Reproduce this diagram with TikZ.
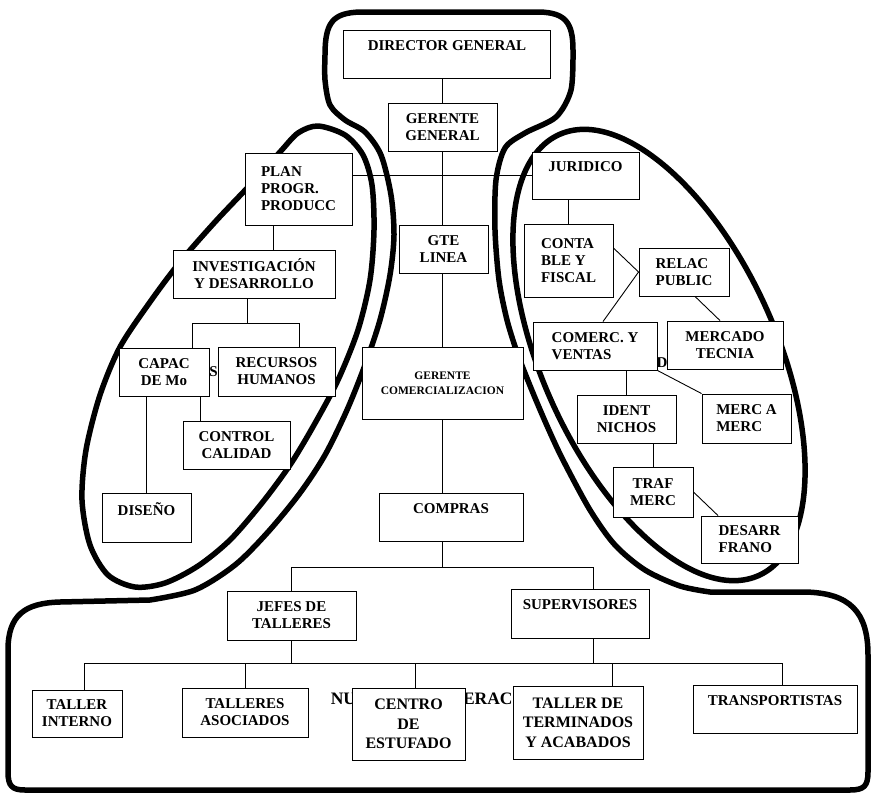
\documentclass[tikz,border=0pt]{standalone}
\usepackage{fontspec}
\setmainfont{Liberation Serif}
\tikzset{
unit/.style={draw, fill=white, line width=0.9pt, inner sep=1pt, align=center, font=\bfseries\fontsize{15}{17}\selectfont}, % every box of the chart
wideunit/.style={unit, font=\bfseries\fontsize{16}{19.5}\selectfont}, % the two wider boxes of the bottom row
smallunit/.style={unit, font=\bfseries\fontsize{11.5}{14.5}\selectfont}, % box with the long word
rim/.style={line width=5.5pt, line join=round}, % thick outlines round the groups
hidden/.style={font=\bfseries\fontsize{15}{17}\selectfont}, % letters partly covered by the boxes
}

\begin{document}
\begin{tikzpicture}[x=1pt, y=-1pt, line width=0.9pt]
\path[use as bounding box, fill=white] (0,0) rectangle (873,795);

% outlines
\draw[rim] (8,772) -- (8,650) .. controls (8,615) and (25,603) .. (60,602) -- (150,600)
 -- plot[smooth] coordinates {(150,600) (195,590) (235,565) (268,532) (300,493) (325,455) (347,410) (365,365) (380,320) (390,275) (394,235) (391,195) (381,155) (365,132) (345,120) (330,105) (325,80) (325,55)}
 .. controls (325,22) and (333,13) .. (360,12) -- (540,12) .. controls (565,13) and (573,22) .. (573,50)
 -- plot[smooth] coordinates {(573,50) (571,90) (556,117) (525,133) (505,148) (496,180) (495,230) (499,280) (507,320) (518,355) (533,393) (548,428) (563,460) (590,510) (615,545) (645,570) (680,586) (710,592)}
 -- (805,592) .. controls (850,593) and (868,612) .. (868,655) -- (868,772) .. controls (868,786) and (864,790) .. (850,790) -- (25,790) .. controls (12,790) and (8,786) .. (8,772) -- cycle;
\draw[rim] plot[smooth cycle] coordinates {(318,126) (345,135) (363,155) (372,185) (374,230) (370,280) (358,330) (338,380) (314,425) (290,465) (262,503) (230,540) (198,566) (165,583) (135,587) (108,575) (90,545) (82,500) (86,450) (100,395) (120,347) (150,302) (180,262) (215,222) (250,185) (280,152) (298,133)};
\draw[rim, rotate around={-65.6:(659,355)}] (659,355) ellipse [x radius=242, y radius=117];

\node[anchor=base west, font=\bfseries\fontsize{17.5}{20}\selectfont] (nucleo) at (327,704) {NUCLEO DE OPERACIONES};
\node[hidden] (s) at (213.5,372) {S};
\node[hidden] (d) at (662,363) {D};

\node[unit, minimum width=207, minimum height=48] (dir) at (447,54) {DIRECTOR GENERAL\\\mbox{}};
\node[unit, minimum width=109, minimum height=48] (gg) at (442.5,127) {GERENTE\\GENERAL};
\node[unit, align=left, minimum width=107, minimum height=72] (plan) at (298.5,189) {PLAN\\PROGR.\\PRODUCC};
\node[unit, minimum width=89, minimum height=48] (gtel) at (443.5,249) {GTE\\LINEA};
\node[unit, minimum width=107, minimum height=47] (jur) at (585.5,175.5) {JURIDICO\\\mbox{}};
\node[unit, align=left, minimum width=89, minimum height=73] (cont) at (568.5,260.5) {CONTA\\BLE Y\\FISCAL};
\node[unit, align=left, minimum width=90, minimum height=48] (relac) at (684,272) {RELAC\\PUBLIC};
\node[unit, align=left, minimum width=124, minimum height=48] (comerc) at (595,346) {COMERC. Y\\VENTAS};
\node[unit, minimum width=116, minimum height=48] (merc) at (725,345) {MERCADO\\TECNIA};
\node[unit, minimum width=99, minimum height=48] (ident) at (626.5,419) {IDENT\\NICHOS};
\node[unit, align=left, minimum width=89, minimum height=49] (mercm) at (746.5,418.5) {MERC A\\MERC};
\node[unit, minimum width=80, minimum height=50] (traf) at (653,492) {TRAF\\MERC};
\node[unit, align=left, minimum width=97, minimum height=47] (desarr) at (749.5,539.5) {DESARR\\FRANO};
\node[unit, minimum width=162, minimum height=48] (invest) at (254,274) {INVESTIGACIÓN\\Y DESARROLLO};
\node[unit, minimum width=90, minimum height=48] (capac) at (164,372) {CAPAC\\DE Mo};
\node[unit, minimum width=117, minimum height=49] (recur) at (276.5,371.5) {RECURSOS\\HUMANOS};
\node[unit, minimum width=107, minimum height=48] (control) at (236.5,445) {CONTROL\\CALIDAD};
\node[unit, minimum width=89, minimum height=49] (diseno) at (146.5,517.5) {DISEÑO\\\mbox{}};
\node[smallunit, minimum width=161, minimum height=72] (gcom) at (442.5,383) {GERENTE\\COMERCIALIZACION};
\node[unit, minimum width=144, minimum height=48] (compras) at (451,517) {COMPRAS\\\mbox{}};
\node[unit, minimum width=129, minimum height=49] (jefes) at (291.5,615.5) {JEFES DE\\TALLERES};
\node[unit, minimum width=138, minimum height=49] (superv) at (580,613.5) {SUPERVISORES\\\mbox{}};
\node[unit, minimum width=90, minimum height=47] (tint) at (77,713.5) {TALLER\\INTERNO};
\node[unit, minimum width=126, minimum height=49] (tasoc) at (245,712.5) {TALLERES\\ASOCIADOS};
\node[wideunit, minimum width=113, minimum height=72] (centro) at (408.5,724) {CENTRO\\DE\\ESTUFADO};
\node[wideunit, minimum width=130, minimum height=73] (tterm) at (578,722.5) {TALLER DE\\TERMINADOS\\Y ACABADOS};
\node[unit, minimum width=164, minimum height=48] (transp) at (775,709) {TRANSPORTISTAS\\\mbox{}};

% centre column and left group
\coordinate (hub) at (443,175);
\draw (gg.north |- dir.south) -- (gg.north);
\draw (gg.south) -- (gg.south |- gtel.north);
\draw (hub -| plan.east) -- (hub -| jur.west);
\coordinate (p1) at ([xshift=-25.5]plan.south);
\draw (p1) -- (p1 |- invest.north);
\coordinate (i1) at ([xshift=-7]invest.south);
\coordinate (ca) at ([xshift=28]capac.north);
\coordinate (ra) at ([xshift=22.5]recur.north);
\draw (i1) -- ++(0,25) coordinate (i2);
\draw (ca) |- (i2) -| (ra);
\draw (diseno.north |- capac.south) -- (diseno.north);
\coordinate (cb) at ([xshift=36]capac.south);
\draw (cb) -- (cb |- control.north);
\draw (gcom.north |- gtel.south) -- (gcom.north);
\draw (gcom.south) -- (gcom.south |- compras.north);
\draw (gcom.south |- compras.south) -- ++(0,26) coordinate (b0);
\coordinate (sa) at ([xshift=13]superv.north);
\draw (jefes.north) |- (b0) -| (sa);

% bottom row
\coordinate (row) at (443,663);
\coordinate (sb) at ([xshift=13]superv.south);
\draw (jefes.south) -- (jefes.south |- row);
\draw (sb) -- (sb |- row);
\coordinate (ta) at ([xshift=7]tint.north);
\coordinate (te) at ([xshift=7]transp.north);
\draw (ta) |- (row -| te) -- (te);
\draw (tasoc.north) -- (tasoc.north |- row);
\coordinate (tc) at ([xshift=6.5]centro.north);
\draw (tc) -- (tc |- row);
\coordinate (td) at ([xshift=34]tterm.north);
\draw (td) -- (td |- row);

% right group
\draw (cont.north |- jur.south) -- (cont.north);
\draw ([yshift=12.5]cont.east) -- (relac.west);
\draw (relac.west) -- ([xshift=8]comerc.north);
\draw ([xshift=11]relac.south) -- ([xshift=-5]merc.north);
\draw (ident.north |- comerc.south) -- (ident.north);
\draw (comerc.south east) -- (mercm.north west);
\draw (traf.north |- ident.south) -- (traf.north);
\draw (traf.east) -- ([xshift=-31.5]desarr.north);
\end{tikzpicture}
\end{document}
